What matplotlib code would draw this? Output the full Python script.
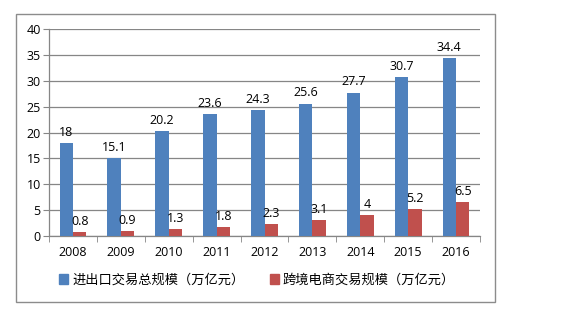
import matplotlib
matplotlib.use("Agg")
import matplotlib.pyplot as plt
from matplotlib.patches import Rectangle, Patch
import numpy as np

plt.rcParams['font.family'] = ['Noto Sans CJK SC', 'DejaVu Sans']

years = ['2008', '2009', '2010', '2011', '2012', '2013', '2014', '2015', '2016']
total_trade = [18, 15.1, 20.2, 23.6, 24.3, 25.6, 27.7, 30.7, 34.4]
cross_border = [0.8, 0.9, 1.3, 1.8, 2.3, 3.1, 4, 5.2, 6.5]
labels_series = ['进出口交易总规模（万亿元）', '跨境电商交易规模（万亿元）']
yticks = [0, 5, 10, 15, 20, 25, 30, 35, 40]

blue = '#4F81BD'
red = '#C0504D'
grid_c = '#868686'
num_font = ['Open Sans', 'DejaVu Sans']

fig = plt.figure(figsize=(5.61, 3.24), dpi=100)
fig.patch.set_facecolor('white')

# outer border
fig.patches.append(Rectangle((16/561, 1-302/324), (495-16)/561, (302-14)/324,
                             transform=fig.transFigure, fill=False,
                             edgecolor='#8c8c8c', linewidth=1.0))

ax = fig.add_axes([49/561, 1-236/324, (480-49)/561, (236-29)/324])
x = np.arange(len(years))
w = 0.28
ax.bar(x - w/2, total_trade, width=w, color=blue, zorder=3)
ax.bar(x + w/2, cross_border, width=w, color=red, zorder=3)

for xi, v in zip(x, total_trade):
    ax.annotate(f'{v:g}', (xi - w/2, v), xytext=(0, 3), textcoords='offset points',
                ha='center', va='bottom', fontsize=9, family=num_font)
for xi, v in zip(x, cross_border):
    ax.annotate(f'{v:g}', (xi + w/2, v), xytext=(0, 3), textcoords='offset points',
                ha='center', va='bottom', fontsize=9, family=num_font)

ax.set_xlim(-0.5, len(years) - 0.5)
ax.set_ylim(0, 40)
ax.set_yticks(yticks)
ax.set_yticklabels([str(t) for t in yticks], fontsize=9, family=num_font)
ax.set_xticks(x)
ax.set_xticklabels(years, fontsize=9, family=num_font)
ax.tick_params(axis='x', which='major', length=0, pad=7)
ax.set_xticks(np.arange(-0.5, len(years)), minor=True)
ax.tick_params(axis='x', which='minor', length=4, color=grid_c, direction='out')
ax.tick_params(axis='y', length=4, color=grid_c, direction='out', pad=2)
ax.yaxis.grid(True, color=grid_c, linewidth=0.9, zorder=0)
ax.set_axisbelow(True)
for s in ['top', 'right']:
    ax.spines[s].set_visible(False)
for s in ['left', 'bottom']:
    ax.spines[s].set_color(grid_c)
    ax.spines[s].set_linewidth(0.9)

handles = [Patch(color=blue), Patch(color=red)]
fig.legend(handles, labels_series, ncol=2, loc='center',
           bbox_to_anchor=(257/561, 1-280/324), frameon=False,
           handlelength=0.7, handleheight=0.7, handletextpad=0.3,
           columnspacing=1.9, fontsize=9.5)

fig.savefig('out.png', dpi=100, facecolor='white')
